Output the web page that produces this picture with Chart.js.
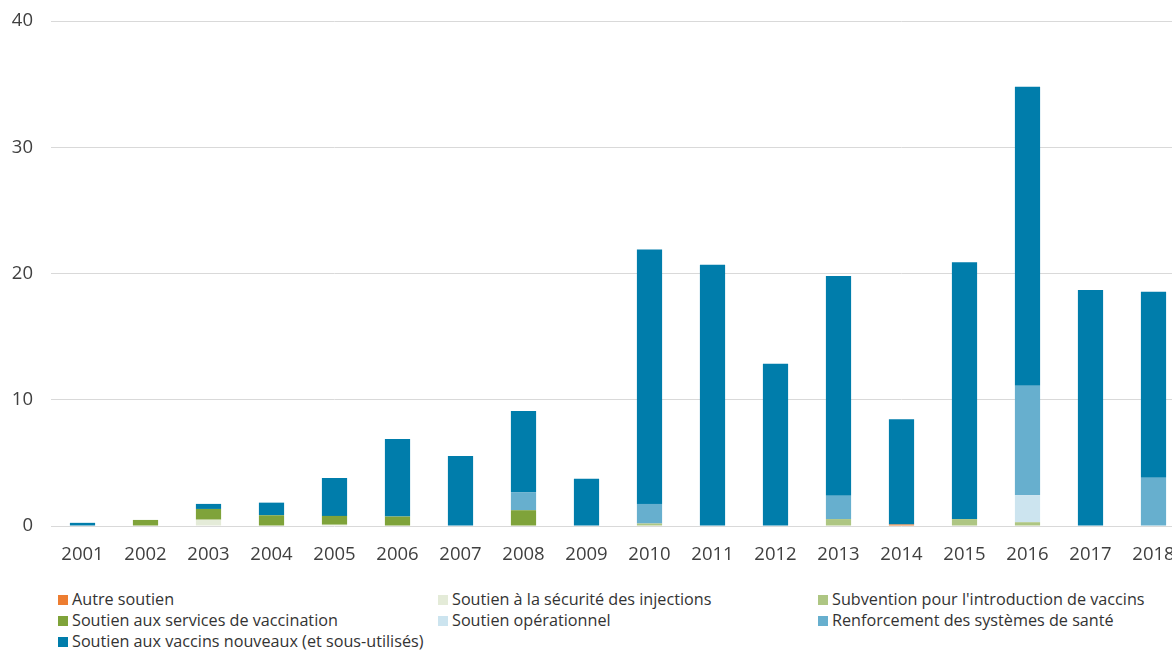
<!DOCTYPE html>
<html>
<head>
<meta charset="utf-8">
<script src="https://cdn.jsdelivr.net/npm/chart.js@4.4.1/dist/chart.umd.min.js"></script>
<style>
    html, body { margin: 0; padding: 0; background: #fff; overflow: hidden; }
    body { width: 1172px; height: 652px; position: relative; font-family: "Open Sans", sans-serif; }
    #wrap { position: absolute; left: 0; top: 0; width: 1190px; height: 575px; }
    #legend { position: absolute; left: 0; top: 589px; width: 1172px; font-size: 16.2px; color: #333; }
    .item { position: absolute; white-space: nowrap; line-height: 21px; }
    .item span { display: inline-block; width: 10px; height: 10px; margin-right: 4px; vertical-align: 0px; }
</style>
</head>
<body>
<div id="wrap"><canvas id="chart"></canvas></div>
<div id="legend"></div>
<script>
// Years on the x axis
const years = ["2001","2002","2003","2004","2005","2006","2007","2008","2009",
               "2010","2011","2012","2013","2014","2015","2016","2017","2018"];

// Values per support type
const autreSoutien      = [0,0,0,0,0,0,0,0,0,0,0,0,0,0.12,0,0,0,0];
const securiteInjection = [0,0,0.5,0,0.1,0,0,0,0,0,0,0,0,0,0,0,0,0];
const subventionIntro   = [0,0,0,0,0,0,0,0,0,0.2,0,0,0.55,0,0.55,0.3,0,0];
const servicesVacc      = [0,0.48,0.85,0.85,0.7,0.75,0,1.25,0,0,0,0,0,0,0,0,0,0];
const soutienOper       = [0,0,0,0,0,0,0,0,0,0,0,0,0,0,0,2.15,0,0];
const renforcementSys   = [0,0,0,0,0,0,0,1.43,0,1.55,0,0,1.85,0,0,8.65,0,3.83];
const vaccinsNouveaux   = [0.25,0,0.4,1.0,3.0,6.15,5.55,6.42,3.75,20.15,20.7,12.85,17.4,8.33,20.35,23.7,18.7,14.72];

const yTicks = [0, 10, 20, 30, 40];

const seriesList = [
    {label: "Autre soutien", data: autreSoutien, color: "#ED7D31"},
    {label: "Soutien à la sécurité des injections", data: securiteInjection, color: "#E4EBD8"},
    {label: "Subvention pour l'introduction de vaccins", data: subventionIntro, color: "#AEC683"},
    {label: "Soutien aux services de vaccination", data: servicesVacc, color: "#7FA33A"},
    {label: "Soutien opérationnel", data: soutienOper, color: "#CCE4EF"},
    {label: "Renforcement des systèmes de santé", data: renforcementSys, color: "#67AFCE"},
    {label: "Soutien aux vaccins nouveaux (et sous-utilisés)", data: vaccinsNouveaux, color: "#007DAB"},
];

// Legend laid out in three columns like the original
const legendPos = [[58,0],[438,0],[818,0],[58,21],[438,21],[818,21],[58,42]];
const legendDiv = document.getElementById("legend");
seriesList.forEach(function(s, i){
    const el = document.createElement("div");
    el.className = "item";
    el.style.left = legendPos[i][0] + "px";
    el.style.top = legendPos[i][1] + "px";
    el.innerHTML = '<span style="background:' + s.color + '"></span>' + s.label;
    legendDiv.appendChild(el);
});

const ctx = document.getElementById("chart").getContext("2d");
new Chart(ctx, {
    type: "bar",
    data: {
        labels: years,
        datasets: seriesList.map(function(s){
            return {
                label: s.label,
                data: s.data,
                backgroundColor: s.color,
                borderWidth: 0,
                categoryPercentage: 1.0,
                barPercentage: 0.4,
            };
        }),
    },
    options: {
        responsive: true,
        maintainAspectRatio: false,
        animation: false,
        layout: { padding: { top: 21, right: 5, left: 0, bottom: 0 } },
        plugins: { legend: { display: false }, tooltip: { enabled: false } },
        scales: {
            x: {
                stacked: true,
                afterFit: function(scale){ scale.height = 49; scale.paddingLeft = 0; scale.paddingRight = 0; },
                grid: { display: false },
                border: { display: false },
                ticks: { color: "#404040", font: { family: "Open Sans", size: 18.5 }, padding: 10, maxRotation: 0, autoSkip: false },
            },
            y: {
                stacked: true,
                min: 0,
                max: 40,
                afterBuildTicks: function(scale){ scale.ticks = yTicks.map(v => ({value: v})); },
                afterFit: function(scale){ scale.width = 51; scale.paddingTop = 0; scale.paddingBottom = 0; },
                grid: { color: "#D9D9D9", lineWidth: 1, drawTicks: false },
                border: { display: false },
                ticks: { color: "#404040", font: { family: "Open Sans", size: 18.5 }, padding: 18 },
            },
        },
    },
});
</script>
</body>
</html>
